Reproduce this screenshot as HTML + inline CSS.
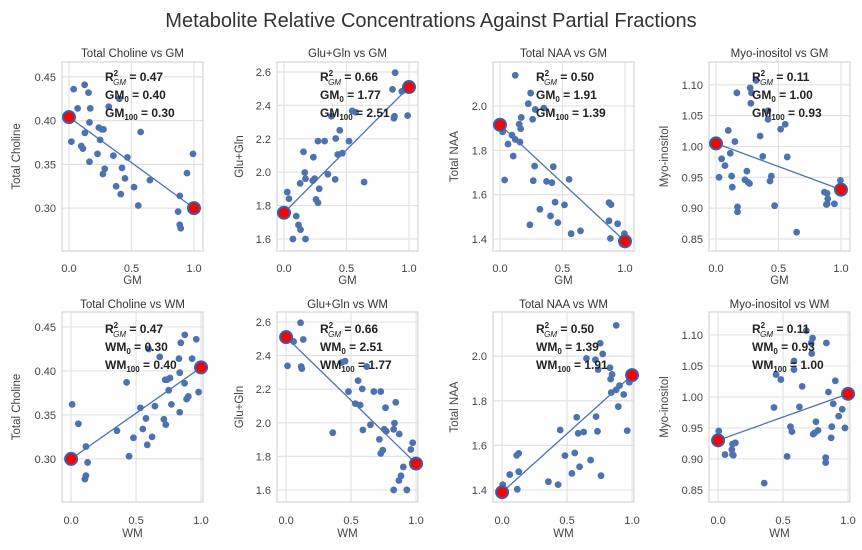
<!DOCTYPE html>
<html><head><meta charset="utf-8"><style>
body{margin:0;background:#fff;}
svg{display:block;font-family:"Liberation Sans","DejaVu Sans",sans-serif;}
</style></head><body>
<svg id="chart" width="862" height="550" viewBox="0 0 862 550" xmlns="http://www.w3.org/2000/svg">
<text x="431" y="27" text-anchor="middle" font-size="20" fill="#333">Metabolite Relative Concentrations Against Partial Fractions</text>
</svg>
<script>
const metabolites = ["Total Choline","Glu+Gln","Total NAA","Myo-inositol"];
const gm0Values = ["0.40","1.77","1.91","1.00"];
const gm100Values = ["0.30","2.51","1.39","0.93"];
const r2Values = ["0.47","0.66","0.50","0.11"];
const fit0 = [0.404,1.757,1.915,1.005];
const fit100 = [0.300,2.51,1.39,0.930];
const yTicks = [[0.30,0.35,0.40,0.45],[1.6,1.8,2.0,2.2,2.4,2.6],[1.4,1.6,1.8,2.0],[0.85,0.90,0.95,1.00,1.05,1.10]];
const yTickLabels = [["0.30","0.35","0.40","0.45"],["1.6","1.8","2.0","2.2","2.4","2.6"],["1.4","1.6","1.8","2.0"],["0.85","0.90","0.95","1.00","1.05","1.10"]];
const yDomains = [[0.251,0.467],[1.528,2.66],[1.346,2.198],[0.8305,1.137]];
const xTicks = [0,0.5,1];
const xTickLabels = ["0.0","0.5","1.0"];

const gm1 = [.037,.125,.156,.069,.170,.019,.098,.111,.127,.164,.164,.228,.239,.249,.263,.276,.286,.271,.318,.403,.355,.377,.414,.424,.448,.467,.520,.554,.573,.647,.873,.886,.886,.894,.944,.992];
const wm1 = [.963,.875,.844,.931,.830,.981,.902,.889,.873,.836,.836,.772,.761,.751,.737,.724,.714,.729,.682,.597,.645,.623,.586,.576,.552,.533,.480,.446,.427,.353,.127,.114,.114,.106,.056,.008];
const val1 = [.436,.441,.432,.414,.414,.376,.371,.368,.386,.398,.353,.362,.392,.378,.390,.390,.345,.339,.416,.425,.360,.325,.316,.346,.334,.358,.324,.303,.387,.332,.296,.314,.281,.277,.340,.362];

const gm2 = [.026,.040,.098,.071,.116,.132,.172,.156,.166,.172,.129,.235,.245,.256,.272,.272,.282,.325,.351,.409,.414,.446,.430,.467,.520,.546,.573,.641,.868,.889,.879,.884,.942,.989,.380,.230];
const wm2 = [.974,.960,.902,.929,.884,.868,.828,.844,.834,.828,.871,.765,.755,.744,.728,.728,.718,.675,.649,.591,.586,.554,.570,.533,.480,.454,.427,.359,.132,.111,.121,.116,.058,.011,.620,.770];
const val2 = [1.881,1.841,1.737,1.600,1.684,1.656,1.600,2.122,1.998,1.961,1.933,2.090,1.961,1.837,1.817,2.186,1.901,2.186,1.988,1.957,2.202,2.251,2.106,2.114,2.186,2.367,2.359,1.941,2.496,2.596,2.323,2.335,2.484,2.339,2.335,1.950];

const gm3 = [.122,.245,.226,.282,.261,.351,.170,.154,.165,.021,.096,.064,.122,.160,.106,.037,.277,.266,.372,.415,.426,.553,.441,.319,.404,.463,.239,.516,.569,.644,.872,.888,.872,.883,.941,.995];
const wm3 = [.878,.755,.774,.718,.739,.649,.830,.846,.835,.979,.904,.936,.878,.840,.894,.963,.723,.734,.628,.585,.574,.447,.559,.681,.596,.537,.761,.484,.431,.356,.128,.112,.128,.117,.059,.005];
const val3 = [2.138,2.058,2.010,1.984,1.940,1.990,1.948,1.918,1.897,1.883,1.868,1.828,1.849,1.837,1.774,1.666,1.729,1.663,1.660,1.654,1.726,1.669,1.566,1.534,1.504,1.474,1.464,1.554,1.424,1.437,1.564,1.555,1.482,1.403,1.469,1.424];

const gm4 = [.273,.284,.279,.321,.167,.098,.151,.114,.045,.072,.024,.125,.130,.172,.172,.247,.231,.257,.268,.353,.374,.416,.416,.443,.432,.469,.570,.517,.554,.645,.867,.889,.889,.894,.883,.947,.995];
const wm4 = [.727,.716,.721,.679,.833,.902,.849,.886,.955,.928,.976,.875,.870,.828,.828,.753,.769,.743,.732,.647,.626,.584,.584,.557,.568,.531,.430,.483,.446,.355,.133,.111,.111,.106,.117,.053,.005];
const val4 = [1.095,1.087,1.070,1.107,1.087,1.026,1.008,.989,.980,.969,.950,.952,.934,.902,.894,.960,.946,.942,.940,1.017,.984,1.058,1.044,.952,.944,.904,.983,1.028,1.036,.861,.926,.924,.907,.915,.906,.907,.945];

const gmSets = [gm1,gm2,gm3,gm4];
const wmSets = [wm1,wm2,wm3,wm4];
const valSets = [val1,val2,val3,val4];

const NS = "http://www.w3.org/2000/svg";
const svg = document.getElementById('chart');
function mk(tag, attrs, parent, text){
  const e = document.createElementNS(NS, tag);
  for (const k in attrs) e.setAttribute(k, attrs[k]);
  if (text !== undefined) e.textContent = text;
  parent.appendChild(e);
  return e;
}
const lefts = [62,277,493,709];
const W = 141;
const rows = [
  {top:62,bottom:251,xd:[-0.056,1.072],kind:"GM",titleY:57,tickY:272,labelY:284},
  {top:312,bottom:502,xd:[-0.07,1.015],kind:"WM",titleY:308,tickY:524,labelY:537}
];
const ylabOff = [-45,-37,-38,-44];

rows.forEach((row, ri) => {
  for (let c = 0; c < 4; c++) {
    const L = lefts[c], R = L + W, T = row.top, B = row.bottom;
    const yd = yDomains[c];
    const sx = v => L + (v - row.xd[0]) / (row.xd[1] - row.xd[0]) * W;
    const sy = v => B - (v - yd[0]) / (yd[1] - yd[0]) * (B - T);
    const g = mk('g', {}, svg);
    
    
    const bg = mk('rect', {x:L, y:T, width:W, height:B-T, fill:'#fff'}, g);
    
    
    // grid
    xTicks.forEach((t, i) => {
      const x = sx(t);
      const gl = mk('line', {x1:x, x2:x, y1:T, y2:B, stroke:'#e3e3e3', 'stroke-width':1.2}, g);
      
      
      const tl = mk('text', {x:x, y:row.tickY, 'text-anchor':'middle', 'font-size':11, fill:'#444'}, g, xTickLabels[i]);
      
      
    });
    yTicks[c].forEach((t, i) => {
      const y = sy(t);
      const gl = mk('line', {x1:L, x2:R, y1:y, y2:y, stroke:'#e3e3e3', 'stroke-width':1.2}, g);
      
      
      const tl = mk('text', {x:L-6, y:y+4, 'text-anchor':'end', 'font-size':11, fill:'#444'}, g, yTickLabels[c][i]);
      
      
    });
    const fr = mk('rect', {x:L, y:T, width:W, height:B-T, fill:'none', stroke:'#d6d6d6', 'stroke-width':1.2}, g);
    
    
    // titles
    const tt = mk('text', {x:(L+R)/2, y:row.titleY, 'text-anchor':'middle', 'font-size':11.5, fill:'#333'}, g, metabolites[c] + ' vs ' + row.kind);
    
    
    const xl = mk('text', {x:(L+R)/2, y:row.labelY, 'text-anchor':'middle', 'font-size':11.5, fill:'#444'}, g, row.kind);
    
    
    const yx = L + ylabOff[c], yy = (T+B)/2;
    const yl = mk('text', {x:yx, y:yy, 'text-anchor':'middle', 'font-size':11.5, fill:'#444', transform:`rotate(-90 ${yx} ${yy})`, 'dominant-baseline':'middle'}, g, metabolites[c]);
    
    
    // points
    const xs = ri === 0 ? gmSets[c] : wmSets[c];
    const vs = valSets[c];
    xs.forEach((xv, i) => {
      const p = mk('circle', {cx:sx(xv), cy:sy(vs[i]), r:3.4, fill:'#4c72b0'}, g);
      
      
    });
    // fit line
    const a = ri === 0 ? fit0[c] : fit100[c];
    const b = ri === 0 ? fit100[c] : fit0[c];
    const fl = mk('line', {x1:sx(0), y1:sy(a), x2:sx(1), y2:sy(b), stroke:'#4c72b0', 'stroke-width':1.3}, g);
    
    
    [[0,a],[1,b]].forEach(([xv,yv]) => {
      const e = mk('circle', {cx:sx(xv), cy:sy(yv), r:6, fill:'red', stroke:'#3b5ea8', 'stroke-width':2}, g);
      
      
    });
    // annotation
    const ax = L + 43, ay = T + (ri === 0 ? 19 : 21);
    const k = row.kind;
    const v0 = ri === 0 ? gm0Values[c] : gm100Values[c];
    const v1 = ri === 0 ? gm100Values[c] : gm0Values[c];
    const t1 = mk('text', {x:ax, y:ay, 'font-size':12, 'font-weight':'bold', fill:'#222'}, g);
    
    
    t1.innerHTML = `R<tspan font-size="8" dy="-5" dx="0">2</tspan><tspan font-size="8" font-style="italic" font-weight="normal" dx="-5" dy="9">GM</tspan><tspan dy="-4"> = ${r2Values[c]}</tspan>`;
    const t2 = mk('text', {x:ax, y:ay+18, 'font-size':12, 'font-weight':'bold', fill:'#222'}, g);
    
    
    t2.innerHTML = `${k}<tspan font-size="8" dy="3">0</tspan><tspan dy="-3"> = ${v0}</tspan>`;
    const t3 = mk('text', {x:ax, y:ay+36, 'font-size':12, 'font-weight':'bold', fill:'#222'}, g);
    
    
    t3.innerHTML = `${k}<tspan font-size="8" dy="3">100</tspan><tspan dy="-3"> = ${v1}</tspan>`;
  }
});
</script>
</body></html>
